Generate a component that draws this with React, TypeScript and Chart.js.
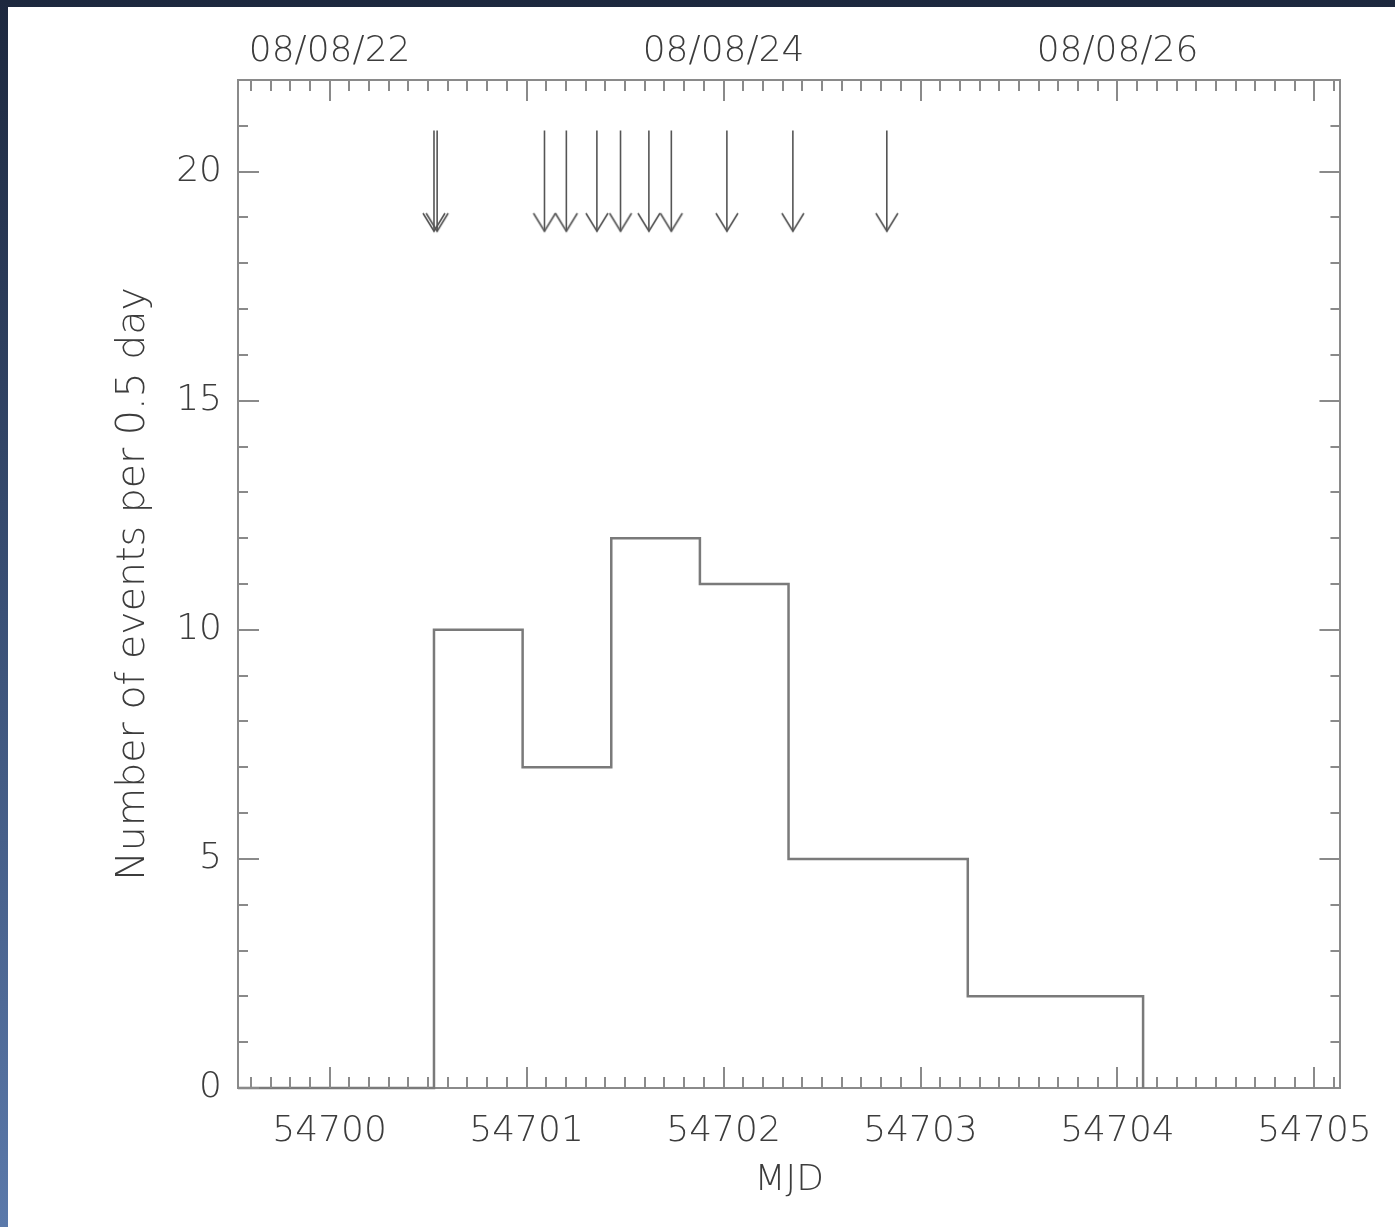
import React, { useEffect, useRef } from 'react';
import { Chart, registerables } from 'chart.js';

Chart.register(...registerables);

// ---- axis ranges ----
const X_MIN = 54699.535;
const X_MAX = 54705.132;
const Y_MIN = 0;
const Y_MAX = 22;

// ---- histogram (events per bin) ----
const binEdges = [54700.53, 54700.98, 54701.43, 54701.88, 54702.33, 54702.78, 54703.24, 54703.69, 54704.13];
const binCounts = [10, 7, 12, 11, 5, 5, 2, 2];

// ---- arrow markers (event times, MJD) ----
const arrowTimes = [54700.530, 54700.546, 54701.091, 54701.202, 54701.357, 54701.477, 54701.621, 54701.735, 54702.017, 54702.352, 54702.829];
const arrowTop = 20.9;
const arrowTip = 18.7;

// ---- tick labels ----
const bottomTickValues = [54700, 54701, 54702, 54703, 54704, 54705];
const bottomTickLabels = ['54700', '54701', '54702', '54703', '54704', '54705'];
const topTickValues = [54700, 54702, 54704];
const topTickLabels = ['08/08/22', '08/08/24', '08/08/26'];
const yTickValues = [0, 5, 10, 15, 20];
const yTickLabels = ['0', '5', '10', '15', '20'];

const FONT_FAMILY = "'DejaVu Sans', sans-serif";
const TEXT_COLOR = '#3c3c3c';
const AXIS_COLOR = '#8a8a8a';

const inwardTicks = {
  id: 'inwardTicks',
  afterDatasetsDraw(chart: any) {
    const { ctx, chartArea: a, scales } = chart;
    const x = scales.x;
    const y = scales.y;
    ctx.save();
    ctx.strokeStyle = AXIS_COLOR;
    ctx.lineWidth = 2;
    const seg = (x1: number, y1: number, x2: number, y2: number) => {
      ctx.beginPath();
      ctx.moveTo(x1, y1);
      ctx.lineTo(x2, y2);
      ctx.stroke();
    };
    const n0 = Math.ceil(X_MIN * 10 - 1e-6);
    const n1 = Math.floor(X_MAX * 10 + 1e-6);
    for (let n = n0; n <= n1; n++) {
      const px = Math.round(x.getPixelForValue(n / 10));
      const len = n % 10 === 0 ? 21 : 11;
      seg(px, a.bottom, px, a.bottom - len);
      seg(px, a.top, px, a.top + len);
    }
    for (let v = Math.ceil(Y_MIN); v <= Math.floor(Y_MAX); v++) {
      const py = Math.round(y.getPixelForValue(v));
      const len = v % 5 === 0 ? 21 : 10;
      seg(a.left, py, a.left + len, py);
      seg(a.right, py, a.right - len, py);
    }
    ctx.restore();
  },
};

function makeChevron(): HTMLCanvasElement {
  const c = document.createElement('canvas');
  c.width = 26;
  c.height = 40;
  const g = c.getContext('2d')!;
  g.strokeStyle = '#505050';
  g.lineWidth = 1.6;
  g.beginPath();
  g.moveTo(2, 2);
  g.lineTo(13, 20);
  g.lineTo(24, 2);
  g.stroke();
  return c;
}

export default function App() {
  const canvasRef = useRef<HTMLCanvasElement | null>(null);

  useEffect(() => {
    const canvas = canvasRef.current;
    if (!canvas) return;

    const histData: { x: number; y: number }[] = [{ x: X_MIN, y: 0 }];
    binCounts.forEach((c, i) => histData.push({ x: binEdges[i], y: c }));
    histData.push({ x: binEdges[binEdges.length - 1], y: 0 });

    const chevron = makeChevron();

    const shaftSets = arrowTimes.map((t) => ({
      type: 'line' as const,
      data: [
        { x: t, y: arrowTop },
        { x: t, y: arrowTip },
      ],
      borderColor: '#555555',
      borderWidth: 1.6,
      pointRadius: 0,
      xAxisID: 'x',
      yAxisID: 'y',
    }));

    const tickFont = { family: FONT_FAMILY, size: 36, weight: 200 as any };
    const yTitleFont = { family: FONT_FAMILY, size: 39.5, weight: 200 as any };

    const chart = new Chart(canvas, {
      type: 'line',
      data: {
        datasets: [
          {
            type: 'line',
            data: histData,
            stepped: 'before',
            borderColor: '#7a7a7a',
            borderWidth: 2.5,
            pointRadius: 0,
            clip: false as any,
            xAxisID: 'x',
            yAxisID: 'y',
          },
          ...shaftSets,
          {
            type: 'line',
            data: arrowTimes.map((t) => ({ x: t, y: arrowTip })),
            showLine: false,
            pointStyle: chevron as any,
            pointRadius: 10,
            xAxisID: 'x',
            yAxisID: 'y',
          },
        ] as any,
      },
      options: {
        animation: false,
        responsive: false,
        maintainAspectRatio: false,
        events: [],
        layout: { padding: 0 },
        plugins: {
          legend: { display: false },
          tooltip: { enabled: false },
        },
        scales: {
          x: {
            type: 'linear',
            position: 'bottom',
            min: X_MIN,
            max: X_MAX,
            grid: { display: false, drawTicks: false },
            border: { display: true, color: AXIS_COLOR, width: 2 },
            afterBuildTicks: (s: any) => {
              s.ticks = bottomTickValues.map((v) => ({ value: v }));
            },
            afterFit: (s: any) => {
              s.height = 139;
            },
            ticks: {
              autoSkip: false,
              maxRotation: 0,
              padding: 22,
              color: TEXT_COLOR,
              font: tickFont,
              callback: (_v: any, i: number) => bottomTickLabels[i],
            },
            title: {
              display: true,
              text: 'MJD',
              color: TEXT_COLOR,
              font: tickFont,
              padding: { top: 0, bottom: 25 },
            },
          },
          x2: {
            type: 'linear',
            position: 'top',
            min: X_MIN,
            max: X_MAX,
            grid: { display: false, drawTicks: false },
            border: { display: true, color: AXIS_COLOR, width: 2 },
            afterBuildTicks: (s: any) => {
              s.ticks = topTickValues.map((v) => ({ value: v }));
            },
            afterFit: (s: any) => {
              s.height = 73;
            },
            ticks: {
              autoSkip: false,
              maxRotation: 0,
              padding: 7,
              color: TEXT_COLOR,
              font: tickFont,
              callback: (_v: any, i: number) => topTickLabels[i],
            },
          },
          y: {
            type: 'linear',
            position: 'left',
            min: Y_MIN,
            max: Y_MAX,
            grid: { display: false, drawTicks: false },
            border: { display: true, color: AXIS_COLOR, width: 2 },
            afterBuildTicks: (s: any) => {
              s.ticks = yTickValues.map((v) => ({ value: v }));
            },
            afterFit: (s: any) => {
              s.width = 230;
            },
            ticks: {
              autoSkip: false,
              padding: 16,
              color: TEXT_COLOR,
              font: tickFont,
              callback: (_v: any, i: number) => yTickLabels[i],
            },
            title: {
              display: true,
              text: 'Number of events per 0.5 day',
              color: TEXT_COLOR,
              font: yTitleFont,
              padding: { top: 102, bottom: 0 },
            },
          },
          y2: {
            type: 'linear',
            position: 'right',
            min: Y_MIN,
            max: Y_MAX,
            grid: { display: false, drawTicks: false },
            border: { display: true, color: AXIS_COLOR, width: 2 },
            afterFit: (s: any) => {
              s.width = 54;
            },
            ticks: { display: false },
          },
        },
      } as any,
      plugins: [inwardTicks],
    });

    return () => {
      chart.destroy();
    };
  }, []);

  return (
    <div
      style={{
        position: 'fixed',
        left: 0,
        top: 0,
        width: 1395,
        height: 1227,
        background: 'linear-gradient(to bottom, #1d283e 0%, #3a5076 50%, #5b79aa 100%)',
        overflow: 'hidden',
      }}
    >
      <canvas
        ref={canvasRef}
        width={1387}
        height={1220}
        style={{ position: 'absolute', left: 8, top: 7, width: 1387, height: 1220, background: '#ffffff' }}
      />
    </div>
  );
}
